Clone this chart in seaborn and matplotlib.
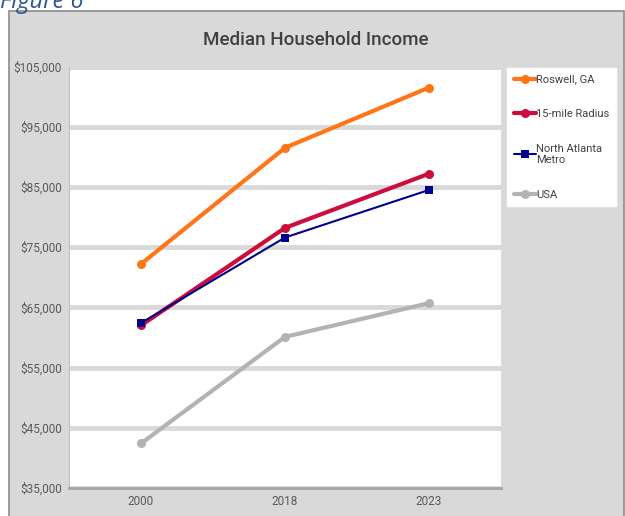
"""Median household income line chart."""

import matplotlib
matplotlib.use("Agg")
import matplotlib.pyplot as plt
import matplotlib.ticker as mticker
import pandas as pd
import seaborn as sns

years = ["2000", "2018", "2023"]
roswell = [72200, 91500, 101500]
radius_15 = [62000, 78200, 87200]
north_atlanta = [62400, 76600, 84500]
usa = [42400, 60100, 65700]

series_names = ["Roswell, GA", "15-mile Radius", "North Atlanta\nMetro", "USA"]
series_values = [roswell, radius_15, north_atlanta, usa]

colors = ["#ff7518", "#cc0e3c", "#00008f", "#b3b3b3"]
widths = [3.0, 3.0, 1.5, 3.0]
marks = ["o", "o", "s", "o"]
msizes = [6.5, 6.5, 6, 6.5]

sns.set_style("white")
plt.rcParams["font.family"] = ["Roboto", "DejaVu Sans"]

fig = plt.figure(figsize=(6.25, 5.16), dpi=100, facecolor="white")

# gray chart frame behind everything
frame = plt.Rectangle((9 / 625, -0.01), 615 / 625, 1 - 11 / 516 + 0.01,
                      transform=fig.transFigure, facecolor="#d9d9d9",
                      edgecolor="#8c8c8c", linewidth=1.2, zorder=-10)
fig.patches.append(frame)

fig.text(0.0, 1 - 2 / 516, "Figure 6", ha="left", va="center", fontsize=17,
         style="italic", color="#2f5496", family=["Open Sans", "DejaVu Sans"])

ax = fig.add_axes([69 / 625, 28 / 516, 432 / 625, 421.5 / 516])
ax.set_facecolor("white")

for name, vals, c, lw, m, ms in zip(series_names, series_values, colors,
                                    widths, marks, msizes):
    df = pd.DataFrame({"year": years, "income": vals})
    sns.lineplot(data=df, x="year", y="income", ax=ax, color=c, linewidth=lw,
                 marker=m, markersize=ms, markeredgewidth=0, label=name,
                 zorder=3)

ax.set_xlim(-0.5, 2.5)
ax.set_ylim(35000, 105000)
ax.set_yticks(range(35000, 105001, 10000))
ax.yaxis.set_major_formatter(mticker.StrMethodFormatter("${x:,.0f}"))
ax.grid(axis="y", color="#d9d9d9", linewidth=3.5)
ax.set_axisbelow(True)
ax.set_xlabel("")
ax.set_ylabel("")
ax.tick_params(axis="both", labelsize=8.5, colors="#595959", length=0, pad=5)
ax.tick_params(axis="x", pad=5)
for s in ["top", "right"]:
    ax.spines[s].set_visible(False)
ax.spines["left"].set_color("#bfbfbf")
ax.spines["left"].set_linewidth(0.8)
ax.spines["bottom"].set_color("#a6a6a6")
ax.spines["bottom"].set_linewidth(2)

fig.text(316 / 625, 1 - 40 / 516, "Median Household Income", ha="center",
         va="center", fontsize=13.5, fontweight="medium", color="#404040")

handles, labels = ax.get_legend_handles_labels()
ax.get_legend().remove()
leg = fig.legend(handles, labels, loc="upper left",
                 bbox_to_anchor=(507 / 625, 1 - 68 / 516), frameon=True,
                 fancybox=False, edgecolor="white", facecolor="white",
                 framealpha=1, fontsize=8, handlelength=2.0,
                 handletextpad=0.0, labelspacing=2.2, borderpad=0.6,
                 borderaxespad=0)
for t in leg.get_texts():
    t.set_color("#404040")

fig.savefig("out.png", dpi=100, facecolor="white")
